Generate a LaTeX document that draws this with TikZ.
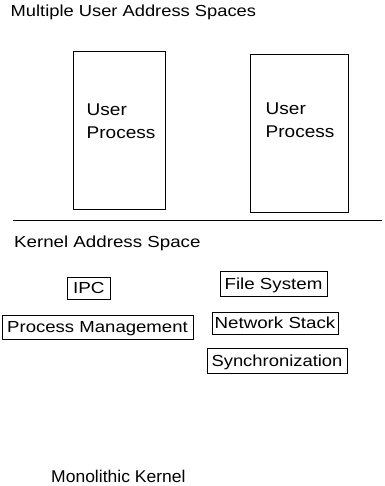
\documentclass[tikz,border=0pt]{standalone}
\usepackage{fontspec}
\usepackage{graphicx}
\setmainfont{Liberation Sans}
% horizontally widened text
\newcommand{\sx}[2]{\scalebox{#1}[1]{#2}}
\begin{document}
\begin{tikzpicture}[x=1pt,y=-1pt,
  every node/.style={text=black},
  lbl/.style={anchor=base west, inner sep=0pt, font=\fontsize{16}{18}\selectfont},
  uproc/.style={anchor=base west, inner sep=0pt, font=\fontsize{17}{19}\selectfont},
  pbox/.style={draw, line width=0.8pt, inner sep=0pt},
  kbox/.style={draw, line width=0.8pt, inner sep=0pt, text height=11.4pt, text depth=0pt,
               font=\fontsize{16}{18}\selectfont}]
\useasboundingbox (0,0) rectangle (384,486);

% user address spaces
\node[lbl] (title) at (10.5,17) {\sx{1.145}{Multiple User Address Spaces}};

\node[pbox, minimum width=92pt, minimum height=158pt] (p1) at (119,130) {};
\node[uproc] (p1a) at (86.5,116) {\sx{1.12}{User}};
\node[uproc] (p1b) at (86.5,139) {\sx{1.12}{Process}};

\node[pbox, minimum width=98pt, minimum height=158pt] (p2) at (299,133) {};
\node[uproc] (p2a) at (265.5,114.5) {\sx{1.12}{User}};
\node[uproc] (p2b) at (265.5,137.5) {\sx{1.12}{Process}};

% user / kernel boundary
\coordinate (sepL) at (13,220);
\coordinate (sepR) at (382,220);
\draw[line width=0.8pt] (sepL) -- (sepR);

% kernel address space
\node[lbl] (ktitle) at (14,247.5) {\sx{1.17}{Kernel Address Space}};

\node[kbox, minimum width=42.5pt, minimum height=22.5pt] (ipc) at (88.75,288.25) {\sx{1.18}{IPC}};
\node[kbox, minimum width=107pt, minimum height=25pt] (fs) at (273.5,283.5) {\sx{1.17}{File System}};
\node[kbox, minimum width=191pt, minimum height=24pt] (pm) at (97.5,327) {\sx{1.16}{Process Management}};
\node[kbox, minimum width=126pt, minimum height=22pt] (ns) at (275,323) {\sx{1.17}{Network Stack}};
\node[kbox, minimum width=140pt, minimum height=25pt] (sync) at (277,360.5) {\sx{1.15}{Synchronization}};

\node[anchor=base west, inner sep=0pt, font=\fontsize{17}{19}\selectfont] (mono) at (51,482) {\sx{1.03}{Monolithic Kernel}};
\end{tikzpicture}
\end{document}
